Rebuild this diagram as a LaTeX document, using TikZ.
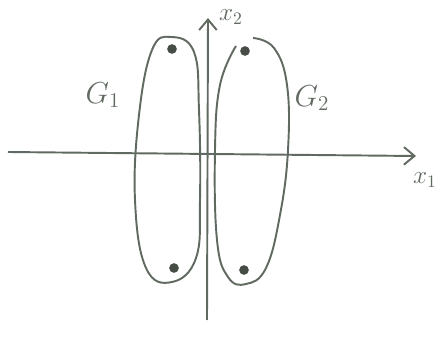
\documentclass[tikz,border=0pt]{standalone}
\usepackage{amsmath}
\usepackage{xcolor}
\usetikzlibrary{arrows.meta,positioning}
\definecolor{penGray}{RGB}{96,106,96}
\definecolor{dotGray}{RGB}{70,76,70}
\tikzset{
  axis/.style={-{Straight Barb[length=6pt,width=10pt]}, line width=1.1pt, color=penGray},
  setline/.style={line width=1.1pt, color=penGray},
  pt/.style={circle, fill=dotGray, inner sep=0pt, minimum size=5.5pt},
  lbl/.style={font=\Large, text=penGray, inner sep=1pt},
  setlbl/.style={font=\LARGE, text=penGray, inner sep=1pt},
}
\begin{document}
\begin{tikzpicture}[x=0.02cm, y=-0.02cm]
\useasboundingbox (0,0) rectangle (441,345);

%% AXES
\coordinate (x1start) at (8,152);
\coordinate (x1end) at (416,156);
\coordinate (x2start) at (207,320);
\coordinate (x2end) at (208,18);
\draw[axis] (x1start) -- (x1end);
\draw[axis] (x2start) -- (x2end);
\node[lbl] (x1lbl) at (425,180) {$x_1$};
\node[lbl] (x2lbl) at (231,17) {$x_2$};

%% SET G1
\draw[setline] plot[smooth cycle, tension=0.7] coordinates
  {(171,37) (194,52) (199,110) (200,200) (196,258) (172,282)
   (146,268) (135,200) (139,115) (152,50)};
\node[pt] (p11) at (172,49) {};
\node[pt] (p12) at (174,268) {};
\node[setlbl] (G1) at (103,95) {$G_1$};

%% SET G2
\draw[setline] plot[smooth, tension=0.7] coordinates
  {(253,38) (274,48) (287,85) (288,150) (280,215) (266,268)
   (246,284) (228,277) (217,240) (215,150) (220,85) (236,46)};
\node[pt] (p21) at (245,51) {};
\node[pt] (p22) at (244,270) {};
\node[setlbl] (G2) at (312,98) {$G_2$};

\end{tikzpicture}
\end{document}
